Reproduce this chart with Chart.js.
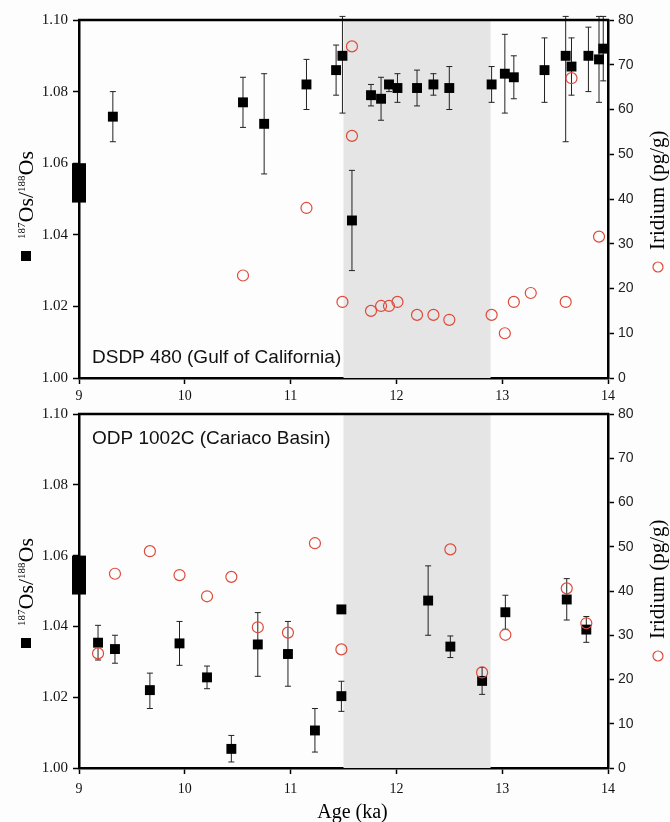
<!DOCTYPE html>
<html>
<head>
<meta charset="utf-8">
<script src="https://cdn.jsdelivr.net/npm/chart.js@4.4.1/dist/chart.umd.min.js"></script>
<style>
  html, body { margin: 0; padding: 0; background: #fdfdfd; }
  #wrap { position: relative; width: 670px; height: 822px; }
  canvas { position: absolute; left: 0; }
  #topChart { top: 0; }
  #bottomChart { top: 400px; }
</style>
</head>
<body>
<div id="wrap">
  <canvas id="topChart" width="670" height="410"></canvas>
  <canvas id="bottomChart" width="670" height="422"></canvas>
</div>
<script>
// age axis (ka) and shaded interval
const ageTicks = [9, 10, 11, 12, 13, 14];
const shadeAge = [11.5, 12.89];
const seawaterOs = [1.049, 1.060];

// DSDP 480 (Gulf of California)
const dsdpAge  = [9.32, 10.55, 10.75, 11.15, 11.43, 11.49, 11.58, 11.76, 11.855, 11.93, 12.01, 12.195, 12.35, 12.50, 12.90, 13.025, 13.11, 13.40, 13.60, 13.655, 13.815, 13.915, 13.955];
const dsdpOs   = [1.073, 1.077, 1.071, 1.082, 1.086, 1.090, 1.044, 1.079, 1.078, 1.082, 1.081, 1.081, 1.082, 1.081, 1.082, 1.085, 1.084, 1.086, 1.090, 1.087, 1.090, 1.089, 1.092];
const dsdpOsLo = [1.066, 1.070, 1.057, 1.075, 1.079, 1.074, 1.030, 1.076, 1.072, 1.080, 1.077, 1.076, 1.079, 1.075, 1.077, 1.074, 1.078, 1.077, 1.066, 1.079, 1.080, 1.077, 1.083];
const dsdpOsHi = [1.080, 1.084, 1.085, 1.089, 1.093, 1.101, 1.058, 1.082, 1.084, 1.083, 1.085, 1.086, 1.085, 1.087, 1.087, 1.096, 1.090, 1.095, 1.101, 1.095, 1.098, 1.101, 1.101];
const dsdpIrAge = [10.55, 11.15, 11.49, 11.58, 11.58, 11.76, 11.855, 11.93, 12.01, 12.195, 12.35, 12.50, 12.90, 13.025, 13.11, 13.27, 13.60, 13.655, 13.915];
const dsdpIr    = [22.9, 38.0, 17.0, 74.1, 54.1, 15.0, 16.1, 16.1, 17.0, 14.1, 14.1, 13.0, 14.1, 10.0, 17.0, 19.0, 17.0, 67.0, 31.6];

// ODP 1002C (Cariaco Basin)
const odpAge  = [9.18, 9.34, 9.67, 9.95, 10.21, 10.44, 10.69, 10.975, 11.23, 11.48, 11.48, 12.30, 12.51, 12.81, 13.03, 13.61, 13.795];
const odpOs   = [1.0354, 1.0336, 1.0220, 1.0352, 1.0256, 1.0054, 1.0349, 1.0322, 1.0106, 1.0448, 1.0203, 1.0473, 1.0343, 1.0246, 1.0440, 1.0476, 1.0391];
const odpOsLo = [1.0305, 1.0296, 1.0168, 1.0290, 1.0224, 1.0017, 1.0259, 1.0231, 1.0045, 1.0448, 1.0160, 1.0375, 1.0312, 1.0208, 1.0392, 1.0418, 1.0355];
const odpOsHi = [1.0403, 1.0375, 1.0268, 1.0414, 1.0288, 1.0092, 1.0439, 1.0414, 1.0168, 1.0448, 1.0245, 1.0571, 1.0373, 1.0284, 1.0488, 1.0535, 1.0428];
const odpIrAge = [9.18, 9.34, 9.67, 9.95, 10.21, 10.44, 10.69, 10.975, 11.23, 11.48, 12.51, 12.81, 13.03, 13.61, 13.795];
const odpIr    = [25.9, 43.9, 49.0, 43.6, 38.8, 43.2, 31.8, 30.6, 50.8, 26.8, 49.4, 21.6, 30.1, 40.6, 32.7];

const serif = '"Liberation Serif", "Times New Roman", serif';
const sans = '"Liberation Sans", Arial, sans-serif';
const red = '#de4a3a';

function pts(xs, ys) { return xs.map((x, i) => ({x, y: ys[i]})); }
function bars(xs, lo, hi) {
  const out = [];
  xs.forEach((x, i) => out.push({x, y: lo[i]}, {x, y: hi[i]}, {x, y: null}));
  return out;
}

// shading, site label, top frame line and axis titles
const decor = {
  id: 'decor',
  beforeDatasetsDraw(chart, args, o) {
    const {ctx, chartArea: a, scales} = chart;
    const x0 = scales.x.getPixelForValue(shadeAge[0]);
    const x1 = scales.x.getPixelForValue(shadeAge[1]);
    ctx.save();
    ctx.fillStyle = '#e5e5e5';
    ctx.fillRect(x0, a.top, x1 - x0, a.bottom - a.top);
    ctx.fillStyle = '#111';
    ctx.font = '19px ' + sans;
    ctx.textBaseline = 'middle';
    ctx.fillText(o.site, a.left + 13, o.siteY(a));
    ctx.restore();
  },
  afterDraw(chart, args, o) {
    const {ctx, chartArea: a} = chart;
    const cy = (a.top + a.bottom) / 2;
    ctx.save();
    ctx.strokeStyle = '#000';
    ctx.lineWidth = 2.5;
    ctx.beginPath();
    ctx.moveTo(a.left - 1, a.top);
    ctx.lineTo(a.right + 1, a.top);
    ctx.stroke();

    // left title with square marker
    ctx.save();
    ctx.translate(26, cy + o.sqOff);
    ctx.rotate(-Math.PI / 2);
    ctx.fillStyle = '#000';
    ctx.fillRect(0, -5, 10, 10);
    let x = 22;
    [['187', 11, -1], ['Os/', 22, 7], ['188', 11, -1], ['Os', 22, 7]].forEach(([t, size, base]) => {
      ctx.font = size + 'px ' + serif;
      ctx.fillText(t, x, base);
      x += ctx.measureText(t).width;
    });
    ctx.restore();

    // right title with circle marker
    ctx.save();
    ctx.translate(664, cy + o.ciOff);
    ctx.rotate(-Math.PI / 2);
    ctx.strokeStyle = red;
    ctx.lineWidth = 1.2;
    ctx.beginPath();
    ctx.arc(0, -6, 5, 0, Math.PI * 2);
    ctx.stroke();
    ctx.fillStyle = '#000';
    ctx.font = '21px ' + serif;
    ctx.fillText('Iridium (pg/g)', 17, 0);
    ctx.restore();

    if (o.xTitle) {
      ctx.fillStyle = '#000';
      ctx.font = '20px ' + serif;
      ctx.textAlign = 'center';
      ctx.textBaseline = 'middle';
      ctx.fillText(o.xTitle, (a.left + a.right) / 2 + 9, a.bottom + 45);
    }
    ctx.restore();
  }
};

function axisStyle(extra) {
  return Object.assign({
    grid: { display: true, drawOnChartArea: false, drawTicks: true, tickLength: 6, tickColor: '#000', tickWidth: 1.5 },
    border: { display: true, color: '#000', width: 2.5 }
  }, extra);
}

function makeChart(id, age, os, lo, hi, irAge, ir, xHeight, padTop, xPad, decorOpts) {
  new Chart(document.getElementById(id), {
    type: 'scatter',
    data: {
      datasets: [
        { data: pts(irAge, ir), yAxisID: 'y2', pointStyle: 'circle', pointRadius: 5.5,
          pointBorderColor: red, pointBorderWidth: 1.2, pointBackgroundColor: 'rgba(0,0,0,0)', order: 0 },
        { data: pts(age, os), yAxisID: 'y', pointStyle: 'rect', pointRadius: 7,
          pointBackgroundColor: '#000', pointBorderWidth: 0, order: 1 },
        { data: bars(age, lo, hi), yAxisID: 'y', showLine: true, spanGaps: false, borderColor: '#222',
          borderWidth: 1, pointStyle: 'line', pointRadius: 3, pointBorderColor: '#222', pointBorderWidth: 1,
          clip: false, order: 2 },
        { data: [{x: 9, y: seawaterOs[0]}, {x: 9, y: seawaterOs[1]}], yAxisID: 'y', showLine: true,
          borderColor: '#000', borderWidth: 14, borderCapStyle: 'butt', pointRadius: 0, clip: false, order: 3 }
      ]
    },
    options: {
      responsive: false,
      animation: false,
      events: [],
      layout: { padding: { top: padTop, left: 0, right: 0, bottom: 0 } },
      plugins: { legend: { display: false }, tooltip: { enabled: false }, decor: decorOpts },
      scales: {
        x: axisStyle({ type: 'linear', min: 9, max: 14,
          afterBuildTicks(s) { s.ticks = ageTicks.map(v => ({value: v})); },
          ticks: { color: '#111', padding: xPad, font: { family: serif, size: 14 } },
          afterFit(s) { s.height = xHeight; } }),
        y: axisStyle({ position: 'left', min: 1.0, max: 1.1,
          ticks: { stepSize: 0.02, color: '#111', padding: 5, font: { family: serif, size: 15 },
                   callback: v => v.toFixed(2) },
          afterFit(s) { s.width = 79; } }),
        y2: axisStyle({ position: 'right', min: 0, max: 80,
          ticks: { stepSize: 10, color: '#222', padding: 4, font: { family: sans, size: 14 } },
          afterFit(s) { s.width = 62; } })
      }
    },
    plugins: [decor]
  });
}

document.addEventListener('DOMContentLoaded', function () {
  makeChart('topChart', dsdpAge, dsdpOs, dsdpOsLo, dsdpOsHi, dsdpIrAge, dsdpIr, 32, 20, 4,
    { site: 'DSDP 480 (Gulf of California)', siteY: a => a.bottom - 20, sqOff: 62, ciOff: 68 });
  makeChart('bottomChart', odpAge, odpOs, odpOsLo, odpOsHi, odpIrAge, odpIr, 54, 8, 7,
    { site: 'ODP 1002C (Cariaco Basin)', siteY: a => a.top + 25, sqOff: 57, ciOff: 65, xTitle: 'Age (ka)' });
});
</script>
</body>
</html>
